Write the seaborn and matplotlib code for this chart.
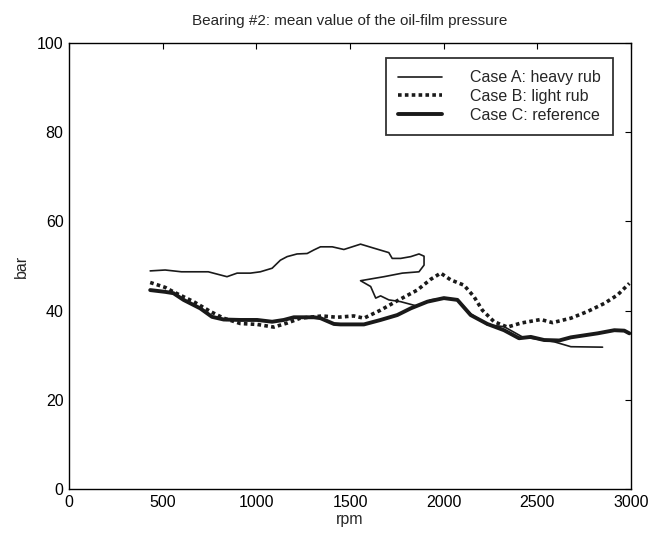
import matplotlib
matplotlib.use("Agg")
import matplotlib.pyplot as plt
import seaborn as sns
import pandas as pd

# Case A: heavy rub (path, not monotonic in rpm)
rpm_a = [433, 513, 600, 700, 743, 843, 897, 968, 1021, 1084, 1128, 1164, 1217, 1271, 1307, 1342,
         1405, 1467, 1556, 1627, 1707, 1725, 1770, 1824, 1868, 1895, 1895, 1868, 1779, 1681, 1556,
         1610, 1637, 1663, 1707, 1770, 1859, 1930, 2001, 2073, 2144, 2233, 2322, 2420, 2590, 2679, 2848]
bar_a = [48.9, 49.1, 48.7, 48.7, 48.7, 47.6, 48.4, 48.4, 48.7, 49.5, 51.3, 52.1, 52.7, 52.8, 53.6, 54.3,
         54.3, 53.7, 54.9, 54.0, 53.0, 51.7, 51.7, 52.1, 52.7, 52.2, 50.2, 48.7, 48.4, 47.6, 46.7,
         45.4, 42.8, 43.3, 42.4, 42.0, 41.0, 42.4, 42.8, 42.4, 39.3, 36.8, 36.4, 34.1, 33.0, 31.9, 31.8]

# Case B: light rub
rpm_b = [433, 513, 557, 665, 754, 825, 914, 1004, 1093, 1164, 1235, 1351, 1431, 1520, 1574, 1663,
         1752, 1859, 1930, 1984, 2037, 2108, 2162, 2206, 2269, 2340, 2412, 2518, 2581, 2679, 2768,
         2857, 2928, 2991]
bar_b = [46.3, 45.2, 44.2, 42.0, 39.8, 38.3, 37.1, 36.9, 36.3, 37.2, 38.3, 38.8, 38.5, 38.8, 38.3, 40.1,
         42.2, 44.6, 47.0, 48.4, 46.9, 45.7, 43.1, 40.1, 37.5, 36.3, 37.2, 38.0, 37.3, 38.3, 39.8,
         41.6, 43.5, 46.1]

# Case C: reference
rpm_c = [433, 513, 557, 611, 700, 763, 825, 914, 1004, 1084, 1146, 1200, 1307, 1342, 1414, 1449,
         1574, 1663, 1752, 1824, 1913, 2001, 2073, 2144, 2233, 2322, 2402, 2465, 2536, 2617, 2679,
         2822, 2911, 2964, 2991]
bar_c = [44.6, 44.2, 43.9, 42.4, 40.5, 38.6, 38.0, 37.9, 37.9, 37.5, 37.9, 38.5, 38.5, 38.3, 37.0, 36.9,
         36.9, 37.9, 39.0, 40.5, 42.0, 42.8, 42.4, 39.0, 37.0, 35.6, 33.8, 34.1, 33.4, 33.3, 34.0,
         34.9, 35.6, 35.5, 34.9]

labels = ["Case A: heavy rub", "Case B: light rub", "Case C: reference"]
x_ticks = [0, 500, 1000, 1500, 2000, 2500, 3000]
y_ticks = [0, 20, 40, 60, 80, 100]

sns.set_theme(style="white")
plt.rcParams["font.family"] = ["Liberation Sans", "DejaVu Sans"]

fig = plt.figure(figsize=(6.58, 5.33), dpi=100)
ax = fig.add_axes([0.105, 0.0826, 0.854, 0.8367])

dfa = pd.DataFrame({"rpm": rpm_a, "bar": bar_a})
dfb = pd.DataFrame({"rpm": rpm_b, "bar": bar_b})
dfc = pd.DataFrame({"rpm": rpm_c, "bar": bar_c})

sns.lineplot(data=dfa, x="rpm", y="bar", sort=False, estimator=None, ax=ax,
             color="#1a1a1a", linewidth=1.2, label=labels[0])
sns.lineplot(data=dfb, x="rpm", y="bar", sort=False, estimator=None, ax=ax,
             color="#1a1a1a", linewidth=2.6, linestyle=(0, (1, 0.9)), label=labels[1])
sns.lineplot(data=dfc, x="rpm", y="bar", sort=False, estimator=None, ax=ax,
             color="#1a1a1a", linewidth=2.8, label=labels[2])

ax.set_xlim(0, 3000)
ax.set_ylim(0, 100)
ax.set_xticks(x_ticks)
ax.set_yticks(y_ticks)
ax.tick_params(direction="in", top=True, right=True, length=4, width=0.8,
               labelsize=11.5, colors="black", pad=4)
for s in ax.spines.values():
    s.set_color("black")
    s.set_linewidth(1.0)
ax.set_xlabel("rpm", fontsize=11.5, labelpad=2)
ax.set_ylabel("bar", fontsize=11.5, labelpad=6)
ax.set_title("Bearing #2: mean value of the oil-film pressure", fontsize=11, pad=13)

leg = ax.legend(loc="upper right", bbox_to_anchor=(0.968, 0.966), fontsize=11.5,
                frameon=True, fancybox=False, edgecolor="black", handlelength=2.75,
                handletextpad=1.75, borderpad=0.75, labelspacing=0.24, borderaxespad=0)
leg.get_frame().set_linewidth(1.3)

fig.savefig("out.png", dpi=100, facecolor="white")
